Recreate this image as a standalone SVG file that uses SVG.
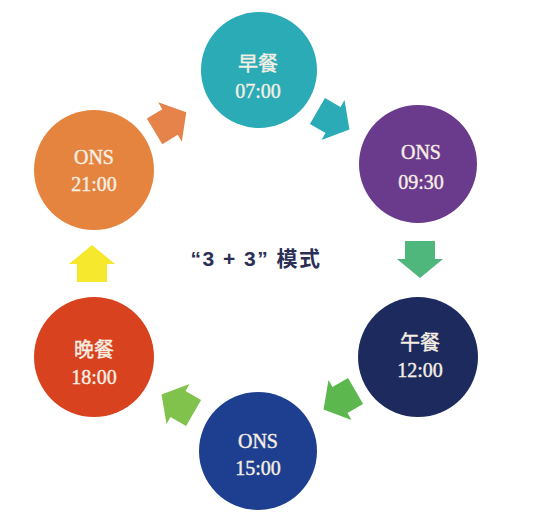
<svg xmlns="http://www.w3.org/2000/svg" width="538" height="532" viewBox="0 0 538 532">
<defs>
<clipPath id="clip"><rect x="0" y="0" width="480" height="532"/></clipPath>
<path id="arr" d="M-18,-15 H0 V-23 L19,0 L0,23 V15 H-18 Z"/>
<style>
.t{font-family:"Liberation Serif","Noto Sans CJK SC",serif;font-size:20px;fill:#f6efe4;stroke:#f6efe4;stroke-width:0.4;text-anchor:middle;}
.c{font-family:"Liberation Sans","Noto Sans CJK SC",sans-serif;font-size:21px;font-weight:bold;letter-spacing:1.5px;fill:#2b2f56;text-anchor:middle;}
</style>
</defs>
<rect width="538" height="532" fill="#ffffff"/>
<g clip-path="url(#clip)">
<g id="n1"><circle cx="259" cy="70" r="58" fill="#2aabb6"/><text class="t" x="258" y="71">早餐</text><text class="t" x="258" y="98">07:00</text></g>
<g id="n2"><circle cx="418" cy="164" r="59" fill="#6a3a8c"/><text class="t" x="421" y="159">ONS</text><text class="t" x="421" y="189">09:30</text></g>
<g id="n3"><circle cx="418" cy="357" r="60" fill="#1d2a5e"/><text class="t" x="420" y="350">午餐</text><text class="t" x="420" y="377">12:00</text></g>
<g id="n4"><circle cx="258" cy="451" r="59" fill="#1e3f8f"/><text class="t" x="258" y="448">ONS</text><text class="t" x="258" y="475">15:00</text></g>
<g id="n5"><circle cx="94" cy="357" r="60" fill="#d8421f"/><text class="t" x="94" y="357">晚餐</text><text class="t" x="94" y="384">18:00</text></g>
<g id="n6"><circle cx="94" cy="170" r="60" fill="#e5843f"/><text class="t" x="94" y="164">ONS</text><text class="t" x="94" y="191">21:00</text></g>
</g>
<g id="connectors">
<use href="#arr" transform="translate(170,122) rotate(-31)" fill="#e5834a"/>
<use href="#arr" transform="translate(333,120) rotate(30)" fill="#2aabb6"/>
<use href="#arr" transform="translate(420,259) rotate(90)" fill="#4fb67c"/>
<use href="#arr" transform="translate(340,400) rotate(150)" fill="#5cb84e"/>
<use href="#arr" transform="translate(178,404) rotate(210)" fill="#80c24b"/>
<use href="#arr" transform="translate(92,264) rotate(-90)" fill="#f6e82c"/>
</g>
<g id="center"><text class="c" x="256" y="266">“3 + 3” 模式</text></g>
</svg>
